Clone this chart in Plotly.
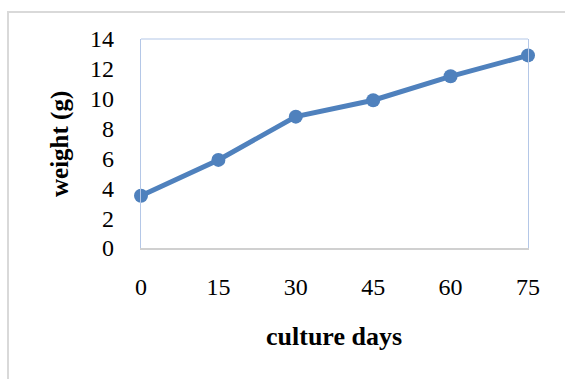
import plotly.graph_objects as go

# Fish weight over the culture period
culture_days = [0, 15, 30, 45, 60, 75]
weight_g = [3.5, 5.9, 8.8, 9.9, 11.5, 12.9]
y_ticks = [0, 2, 4, 6, 8, 10, 12, 14]

W, H = 565, 379
L, R, T, B = 141, 37, 39, 131
pw, ph = W - L - R, H - T - B


def px_x(p):
    return (p - L) / pw


def px_y(p):
    return 1 - (p - T) / ph


fig = go.Figure()
fig.add_trace(go.Scatter(
    x=culture_days, y=weight_g, mode="lines+markers",
    line=dict(color="#4F81BD", width=5),
    marker=dict(color="#4F81BD", size=14),
    cliponaxis=False, showlegend=False,
))

serif = "Liberation Serif, Times New Roman, serif"

fig.update_layout(
    width=W, height=H,
    margin=dict(l=L, r=R, t=T, b=B),
    paper_bgcolor="white", plot_bgcolor="white",
    font=dict(family=serif, size=24, color="black"),
    xaxis=dict(
        range=[0, 75], tickvals=culture_days,
        ticktext=[str(d) for d in culture_days],
        showgrid=False, zeroline=False,
        showline=True, linecolor="#D0D0D0", linewidth=1.5,
        ticks="outside", ticklen=16, tickcolor="rgba(0,0,0,0)",
        tickfont=dict(family=serif, size=24),
    ),
    yaxis=dict(
        range=[0, 14], tickvals=y_ticks,
        showgrid=False, zeroline=False,
        showline=True, linecolor="#B4C7E7", linewidth=1.2, mirror=True,
        ticks="outside", ticklen=21, tickcolor="rgba(0,0,0,0)",
        tickfont=dict(family=serif, size=24),
    ),
    shapes=[
        # top edge of the plot area
        dict(type="line", xref="paper", yref="paper", x0=0, x1=1, y0=1, y1=1,
             line=dict(color="#B4C7E7", width=1.2)),
        # outer chart frame
        dict(type="rect", xref="paper", yref="paper",
             x0=px_x(8), x1=2, y0=-2, y1=px_y(12),
             line=dict(color="#D9D9D9", width=2), layer="below"),
    ],
    annotations=[
        dict(text="<b>weight (g)</b>", xref="paper", yref="paper",
             x=px_x(60), y=px_y(144), xanchor="center", yanchor="middle",
             textangle=-90, showarrow=False,
             font=dict(family=serif, size=25)),
        dict(text="<b>culture days</b>", xref="paper", yref="paper",
             x=px_x(334), y=px_y(336), xanchor="center", yanchor="middle",
             showarrow=False,
             font=dict(family=serif, size=26)),
    ],
)

fig.write_html("out.html")
